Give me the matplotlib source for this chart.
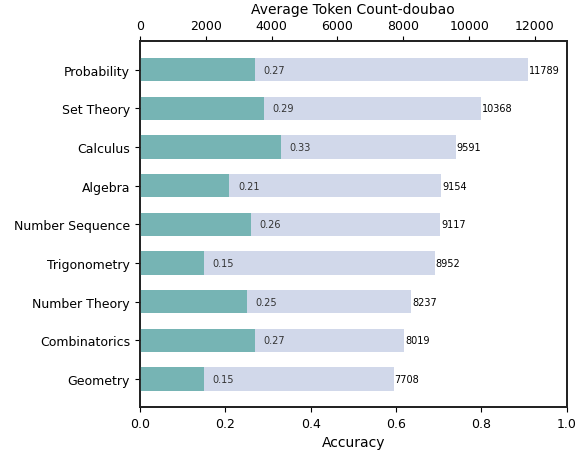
import matplotlib.pyplot as plt

# Categories from top to bottom
categories = ["Probability", "Set Theory", "Calculus", "Algebra", "Number Sequence",
              "Trigonometry", "Number Theory", "Combinatorics", "Geometry"]
accuracy = [0.27, 0.29, 0.33, 0.21, 0.26, 0.15, 0.25, 0.27, 0.15]
token_count = [11789, 10368, 9591, 9154, 9117, 8952, 8237, 8019, 7708]

teal = "#76b4b4"
lavender = "#d1d8ea"

fig, ax1 = plt.subplots(figsize=(5.85, 4.52), dpi=100)
fig.subplots_adjust(left=0.239, right=0.969, top=0.906, bottom=0.097)
ax2 = ax1.twiny()

y = list(range(len(categories)))[::-1]

# token count bars (top axis)
ax2.barh(y, token_count, height=0.6, color=lavender)
for yi, c in zip(y, token_count):
    ax2.text(c + 30, yi, str(c), va="center", ha="left", fontsize=7, color="black")
ax2.set_xlim(0, max(token_count) * 1.1)
ax2.set_xlabel("Average Token Count-doubao", fontsize=10)
ax2.tick_params(labelsize=9)

# accuracy bars (bottom axis), drawn above
ax1.set_zorder(ax2.get_zorder() + 1)
ax1.patch.set_visible(False)
ax1.barh(y, accuracy, height=0.6, color=teal)
for yi, a in zip(y, accuracy):
    ax1.text(a + 0.02, yi, f"{a:.2f}", va="center", ha="left", fontsize=7, color="#333333")
ax1.set_xlim(0, 1.0)
ax1.set_yticks(y)
ax1.set_yticklabels(categories)
ax1.set_xlabel("Accuracy", fontsize=10)
ax1.tick_params(labelsize=9)

for ax in (ax1, ax2):
    for s in ax.spines.values():
        s.set_linewidth(1.3)
        s.set_color("#222222")

plt.savefig("out.png", dpi=100)
